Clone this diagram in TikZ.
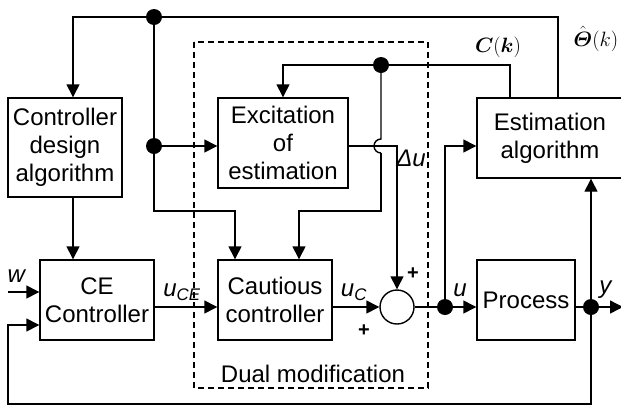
\documentclass[tikz,border=0pt]{standalone}
\usepackage{amsmath}
\usepackage{fontspec}
\setmainfont{Liberation Sans}
\usepackage{tikz}
\usetikzlibrary{arrows.meta}

\tikzset{
  blk/.style={draw, line width=1.4pt, inner sep=0pt, align=center},
  arr/.style={line width=1.4pt, -{Triangle[length=13pt,width=13pt]}},
  wire/.style={line width=1.4pt},
  lbl/.style={inner sep=0pt},
  mlbl/.style={inner sep=0pt, font=\fontsize{20}{24}\selectfont},
  pls/.style={inner sep=0pt, font=\fontsize{20}{20}\selectfont\bfseries}
}

\begin{document}
\begin{tikzpicture}[x=1pt, y=-1pt, font=\fontsize{24}{28}\selectfont]
  \useasboundingbox (0,0) rectangle (621,408);

  % blocks
  \node[blk, minimum width=114pt, minimum height=99pt] (cda) at (65,147.5) {Controller\\design\\algorithm};
  \node[blk, minimum width=130pt, minimum height=90pt] (exc) at (283,143) {Excitation\\of\\estimation};
  \node[blk, minimum width=146pt, minimum height=80pt] (est) at (550,138) {Estimation\\algorithm};
  \node[blk, minimum width=114pt, minimum height=80pt] (ce) at (97,300) {CE\\Controller};
  \node[blk, minimum width=114pt, minimum height=80pt] (cc) at (275,300) {Cautious\\controller};
  \node[blk, minimum width=98pt, minimum height=80pt] (proc) at (526,300) {Process};
  \node[blk, circle, minimum size=34pt] (sum) at (397,307) {};

  % dual modification frame
  \draw[line width=1.4pt, dash pattern=on 6pt off 4pt] (194,42) rectangle (428,388);
  \node[lbl] (dual) at (313,374) {Dual modification};

  % branch points and corners
  \coordinate (t1) at (154,17);
  \coordinate (t2) at (154,146);
  \coordinate (c1) at (381,65);
  \coordinate (nu) at (445,307);
  \coordinate (ny) at (591,307);
  \coordinate (tr) at (558,17);
  \coordinate (tl) at (73,17);
  \coordinate (ck) at (510,65);
  \coordinate (cl) at (283,65);
  \coordinate (b1) at (154,211);
  \coordinate (b1r) at (235,211);
  \coordinate (j) at (381,139);
  \coordinate (b2) at (381,211);
  \coordinate (b2l) at (299,211);
  \coordinate (du) at (397,146);
  \coordinate (ue) at (445,146);
  \coordinate (win) at (8,292);
  \coordinate (yout) at (623,307);
  \coordinate (fb1) at (591,404);
  \coordinate (fb2) at (8,404);
  \coordinate (fb3) at (8,325);

  % connectors
  \draw[arr] (est.north -| tr) -- (tr) -- (tl) -- (cda.north -| tl);
  \draw[arr] (cda.south -| tl) -- (ce.north -| tl);
  \draw[arr] (t1) -- (b1) -- (b1r) -- (cc.north -| b1r);
  \draw[arr] (t2) -- (exc.west |- t2);
  \draw[arr] (est.north -| ck) -- (ck) -- (cl) -- (exc.north);
  \draw[wire] (c1) -- (j) arc (90:270:7pt);
  \draw[arr] ([yshift=-14pt]j) -- (b2) -- (b2l) -- (cc.north -| b2l);
  \draw[arr] (exc.east |- du) -- (du) -- (sum.north);
  \draw[arr] (win) -- (ce.west |- win);
  \draw[arr] (ce.east |- sum) -- (cc.west |- sum);
  \draw[arr] (cc.east |- sum) -- (sum.west);
  \draw[wire] (sum.east) -- (nu);
  \draw[arr] (nu) -- (proc.west |- nu);
  \draw[arr] (nu) -- (ue) -- (est.west |- ue);
  \draw[wire] (proc.east |- ny) -- (ny);
  \draw[arr] (ny) -- (yout);
  \draw[arr] (ny) -- (est.south -| ny);
  \draw[arr] (ny) -- (fb1) -- (fb2) -- (fb3) -- (ce.west |- fb3);

  \foreach \p in {t1,t2,c1,nu,ny} \fill (\p) circle[radius=8pt];

  % signal labels
  \node[lbl] (lw) at (17,276) {\textit{w}};
  \node[lbl] (luce) at (182,292) {\textit{u}\textsubscript{\textit{CE}}};
  \node[lbl] (luc) at (354,292) {\textit{u}\textsubscript{\textit{C}}};
  \node[lbl] (lu) at (460,290) {\textit{u}};
  \node[lbl] (ly) at (606,290) {\textit{y}};
  \node[lbl] (ldu) at (411,158) {\textit{Δu}};
  \node[mlbl] (lck) at (498,47) {$\boldsymbol{C}(\boldsymbol{k})$};
  \node[mlbl] (lth) at (596,39) {$\hat{\boldsymbol{\varTheta}}(k)$};
  \node[pls] (p1) at (413,274) {+};
  \node[pls] (p2) at (364,331) {+};
\end{tikzpicture}
\end{document}
